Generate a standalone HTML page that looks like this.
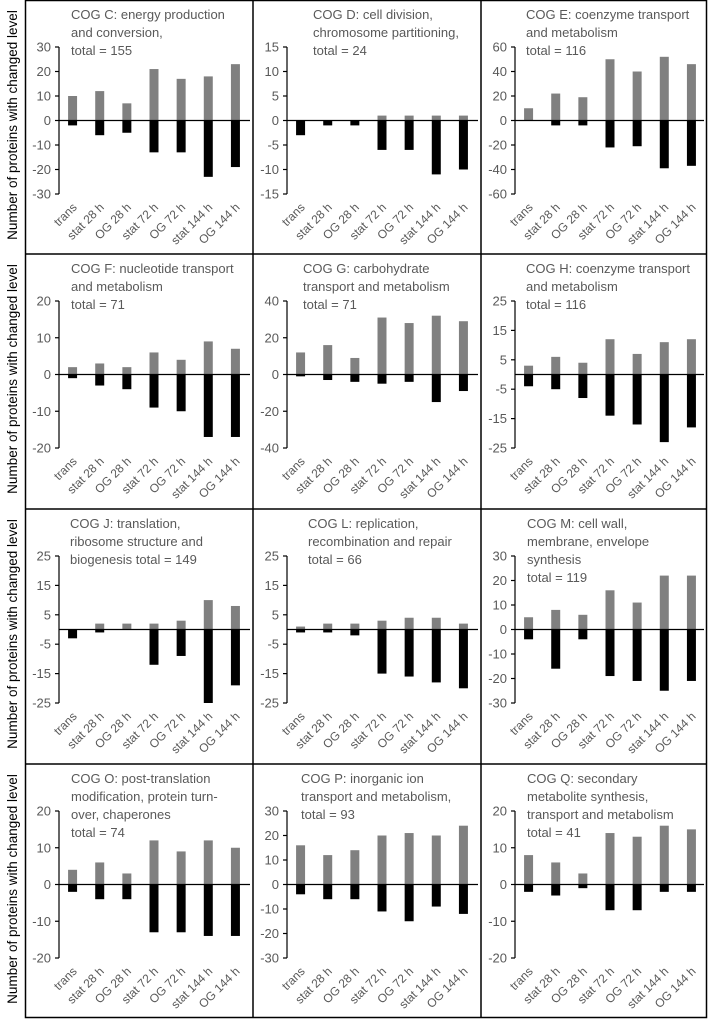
<!DOCTYPE html>
<html><head><meta charset="utf-8"><style>
html,body{margin:0;padding:0;background:#fff;}
svg{display:block;font-family:"Liberation Sans",sans-serif;}
</style></head><body>
<svg id="fig" width="709" height="1019" viewBox="0 0 709 1019"></svg>
<script>
const categories = ["trans","stat 28 h","OG 28 h","stat 72 h","OG 72 h","stat 144 h","OG 144 h"];
const panelIds = ["C","D","E","F","G","H","J","L","M","O","P","Q"];
const titles = [
 ["COG C: energy production","and conversion,"," total = 155"],
 ["COG D: cell division,","chromosome partitioning,","total = 24"],
 ["COG E: coenzyme transport","and metabolism","total = 116"],
 ["COG F: nucleotide transport","and metabolism","total = 71"],
 ["COG G: carbohydrate","transport and metabolism","total = 71"],
 ["COG H: coenzyme transport","and metabolism","total = 116"],
 ["COG J: translation,","ribosome structure and","biogenesis total = 149"],
 ["COG L: replication,","recombination and repair","total = 66"],
 ["COG M: cell wall,","membrane, envelope","synthesis","total = 119"],
 ["COG O: post-translation","modification, protein turn-","over, chaperones","total = 74"],
 ["COG P: inorganic ion","transport and metabolism,","total = 93"],
 ["COG Q: secondary","metabolite synthesis,","transport and metabolism","total = 41"]
];
const upValues = [
 [10,12,7,21,17,18,23],
 [0,0,0,1,1,1,1],
 [10,22,19,50,40,52,46],
 [2,3,2,6,4,9,7],
 [12,16,9,31,28,32,29],
 [3,6,4,12,7,11,12],
 [0,2,2,2,3,10,8],
 [1,2,2,3,4,4,2],
 [5,8,6,16,11,22,22],
 [4,6,3,12,9,12,10],
 [16,12,14,20,21,20,24],
 [8,6,3,14,13,16,15]
];
const downValues = [
 [-2,-6,-5,-13,-13,-23,-19],
 [-3,-1,-1,-6,-6,-11,-10],
 [0,-4,-4,-22,-21,-39,-37],
 [-1,-3,-4,-9,-10,-17,-17],
 [-1,-3,-4,-5,-4,-15,-9],
 [-4,-5,-8,-14,-17,-23,-18],
 [-3,-1,0,-12,-9,-25,-19],
 [-1,-1,-2,-15,-16,-18,-20],
 [-4,-16,-4,-19,-21,-25,-21],
 [-2,-4,-4,-13,-13,-14,-14],
 [-4,-6,-6,-11,-15,-9,-12],
 [-2,-3,-1,-7,-7,-2,-2]
];
const axisMax = [30,15,60,20,40,25,25,25,30,20,30,20];
const tickLabels = [
 [30,20,10,0,-10,-20,-30],
 [15,10,5,0,-5,-10,-15],
 [60,40,20,0,-20,-40,-60],
 [20,10,0,-10,-20],
 [40,20,0,-20,-40],
 [25,15,5,-5,-15,-25],
 [25,15,5,-5,-15,-25],
 [25,15,5,-5,-15,-25],
 [30,20,10,0,-10,-20,-30],
 [20,10,0,-10,-20],
 [30,20,10,0,-10,-20,-30],
 [20,10,0,-10,-20]
];
const titleOffsets = [46,60,45,46,50,45,45,55,46,46,48,46];

const NS = "http://www.w3.org/2000/svg";
const svg = document.getElementById("fig");
function mk(tag, attrs, parent){
  const e = document.createElementNS(NS, tag);
  for (const k in attrs) e.setAttribute(k, attrs[k]);
  (parent||svg).appendChild(e);
  return e;
}
const colX = [25,253,481];
const rowY = [0,254,509,764];
const colW = [228,228,226];

const frame = mk("rect",{x:25.5,y:0.5,width:681,height:1017,fill:"none",stroke:"#000","stroke-width":1.5});


for (let i=1;i<3;i++){
  const l = mk("line",{x1:colX[i],x2:colX[i],y1:0,y2:1018,stroke:"#000","stroke-width":1.5});
  
  
}
for (let i=1;i<4;i++){
  const l = mk("line",{x1:25,x2:707,y1:rowY[i],y2:rowY[i],stroke:"#000","stroke-width":1.5});
  
  
}
for (let r=0;r<4;r++){
  const cy = rowY[r] + 125;
  const t = mk("text",{x:0,y:0,transform:`translate(17,${cy}) rotate(-90)`,"text-anchor":"middle","font-size":"13.5",fill:"#000"});
  t.textContent = "Number of proteins with changed level";
  
  
}

panelIds.forEach((id,p)=>{
  const c = p%3, r = Math.floor(p/3);
  const x0 = colX[c], y0 = rowY[r];
  const g = mk("g",{});
  
  
  const axX = x0+34, plotEnd = x0+224;
  const yTop = y0+47, yBot = y0+194;
  const max = axisMax[p];
  const yScale = v => (yTop+yBot)/2 - v*(yBot-yTop)/(2*max);
  const band = (plotEnd-axX)/categories.length;
  const xScale = i => axX + band*(i+0.5);
  const bw = 9;
  categories.forEach((cat,i)=>{
    const up = upValues[p][i], dn = downValues[p][i];
    if (up>0){
      const b = mk("rect",{x:xScale(i)-bw/2,y:yScale(up),width:bw,height:yScale(0)-yScale(up),fill:"#808080"},g);
      
      
    }
    if (dn<0){
      const b = mk("rect",{x:xScale(i)-bw/2,y:yScale(0),width:bw,height:yScale(dn)-yScale(0),fill:"#000"},g);
      
      
    }
    const t = mk("text",{x:0,y:0,transform:`translate(${xScale(i)+5},${y0+208}) rotate(-45)`,"text-anchor":"end","font-size":"12",fill:"#595959"},g);
    t.textContent = cat;
    
    
  });
  const ax = mk("line",{x1:axX,x2:axX,y1:yTop,y2:yBot,stroke:"#000","stroke-width":1.2},g);
  
  
  tickLabels[p].forEach(v=>{
    const ty = yScale(v);
    const tk = mk("line",{x1:axX-4,x2:axX,y1:ty,y2:ty,stroke:"#000","stroke-width":1.2},g);
    
    
    const t = mk("text",{x:axX-8,y:ty+4.5,"text-anchor":"end","font-size":"13",fill:"#595959"},g);
    t.textContent = v;
    
    
  });
  const zl = mk("line",{x1:axX,x2:x0+colW[c]-3,y1:yScale(0),y2:yScale(0),stroke:"#000","stroke-width":1.3},g);
  
  
  titles[p].forEach((line,k)=>{
    const t = mk("text",{x:x0+titleOffsets[p],y:y0+19+k*18,"font-size":"13",fill:"#595959","xml:space":"preserve"},g);
    t.textContent = line;
    
    
  });
});
</script>
</body></html>
